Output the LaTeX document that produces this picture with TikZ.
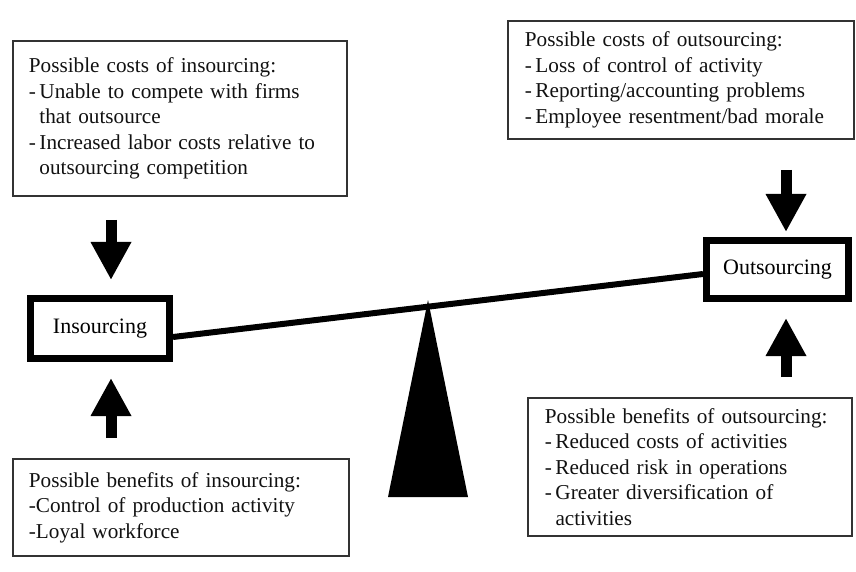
\documentclass[tikz,border=0pt]{standalone}
\usepackage{fontspec}
\setmainfont{Liberation Serif}
\usepackage{tikz}
\usetikzlibrary{
  arrows.meta,
  positioning,
  calc
}
\definecolor{bsInk}{HTML}{111111}
\definecolor{bsFrame}{HTML}{333333}
\newcommand{\bsitem}{-\thinspace}
\newcommand{\bscont}{\hphantom{-\thinspace}}
\newcommand{\bsnotefont}{\fontsize{10.6}{12.8}\selectfont\hyphenpenalty=10000\relax\exhyphenpenalty=10000\relax}
\tikzset{
  bsnote/.style={
    draw=bsFrame, line width=0.9pt, anchor=north west, align=left,
    inner xsep=8pt, inner ysep=3pt, text=bsInk,
    font=\bsnotefont
  },
  bsside/.style={
    draw=black, line width=3.5pt, inner sep=0pt,
    minimum width=69.5pt, minimum height=30pt,
    font=\fontsize{11}{13}\selectfont
  },
  bsarrow/.style={line width=5.5pt, black, -{Triangle[width=19pt, length=19pt]}},
  bsbeam/.style={line width=3pt, black}
}

\begin{document}
\begin{tikzpicture}[x=0.5pt, y=-0.5pt]
  \useasboundingbox (0,0) rectangle (856,572);

  \node[bsnote, text width=151pt, minimum height=77.6pt] (costIn) at (12,40)
    {Possible costs of insourcing:\\
     \bsitem Unable to compete with firms\\
     \bscont that outsource\\
     \bsitem Increased labor costs relative to\\
     \bscont outsourcing competition};
  \node[bsnote, text width=156pt, minimum height=59pt, inner xsep=8.5pt] (costOut) at (507,20)
    {Possible costs of outsourcing:\\
     \bsitem Loss of control of activity\\
     \bsitem Reporting/accounting problems\\
     \bsitem Employee resentment/bad morale};
  \node[bsnote, text width=152pt, minimum height=48.6pt] (benIn) at (12,458)
    {Possible benefits of insourcing:\\
     -Control of production activity\\
     -Loyal workforce};
  \node[bsnote, text width=145pt, minimum height=69pt, inner xsep=8.5pt] (benOut) at (527,397)
    {Possible benefits of outsourcing:\\
     \bsitem Reduced costs of activities\\
     \bsitem Reduced risk in operations\\
     \bsitem Greater diversification of\\
     \bscont activities};

  \node[bsside] (ins) at (100,328.5) {Insourcing};
  \node[bsside, minimum width=71pt, minimum height=29pt] (outs) at (777.5,269.5) {Outsourcing};

  \coordinate (inAx) at (111,0);
  \coordinate (outAx) at (786,0);
  \draw[bsarrow, shorten <=11.5pt, shorten >=7.5pt] (inAx |- costIn.south) -- (inAx |- ins.north);
  \draw[bsarrow, shorten <=10pt, shorten >=8pt] (inAx |- benIn.north) -- (inAx |- ins.south);
  \draw[bsarrow, shorten <=15pt, shorten >=2.5pt] (outAx |- costOut.south) -- (outAx |- outs.north);
  \draw[bsarrow, shorten <=10pt, shorten >=8pt] (outAx |- benOut.north) -- (outAx |- outs.south);

  % balance beam and pivot
  \draw[bsbeam] ([yshift=-4.25pt]ins.east) -- ([yshift=-2.25pt]outs.west);
  \coordinate (pivot) at (428,300);
  \fill[black] (pivot) -- ++(-40,197) -- ++(80,0) -- cycle;
\end{tikzpicture}
\end{document}
